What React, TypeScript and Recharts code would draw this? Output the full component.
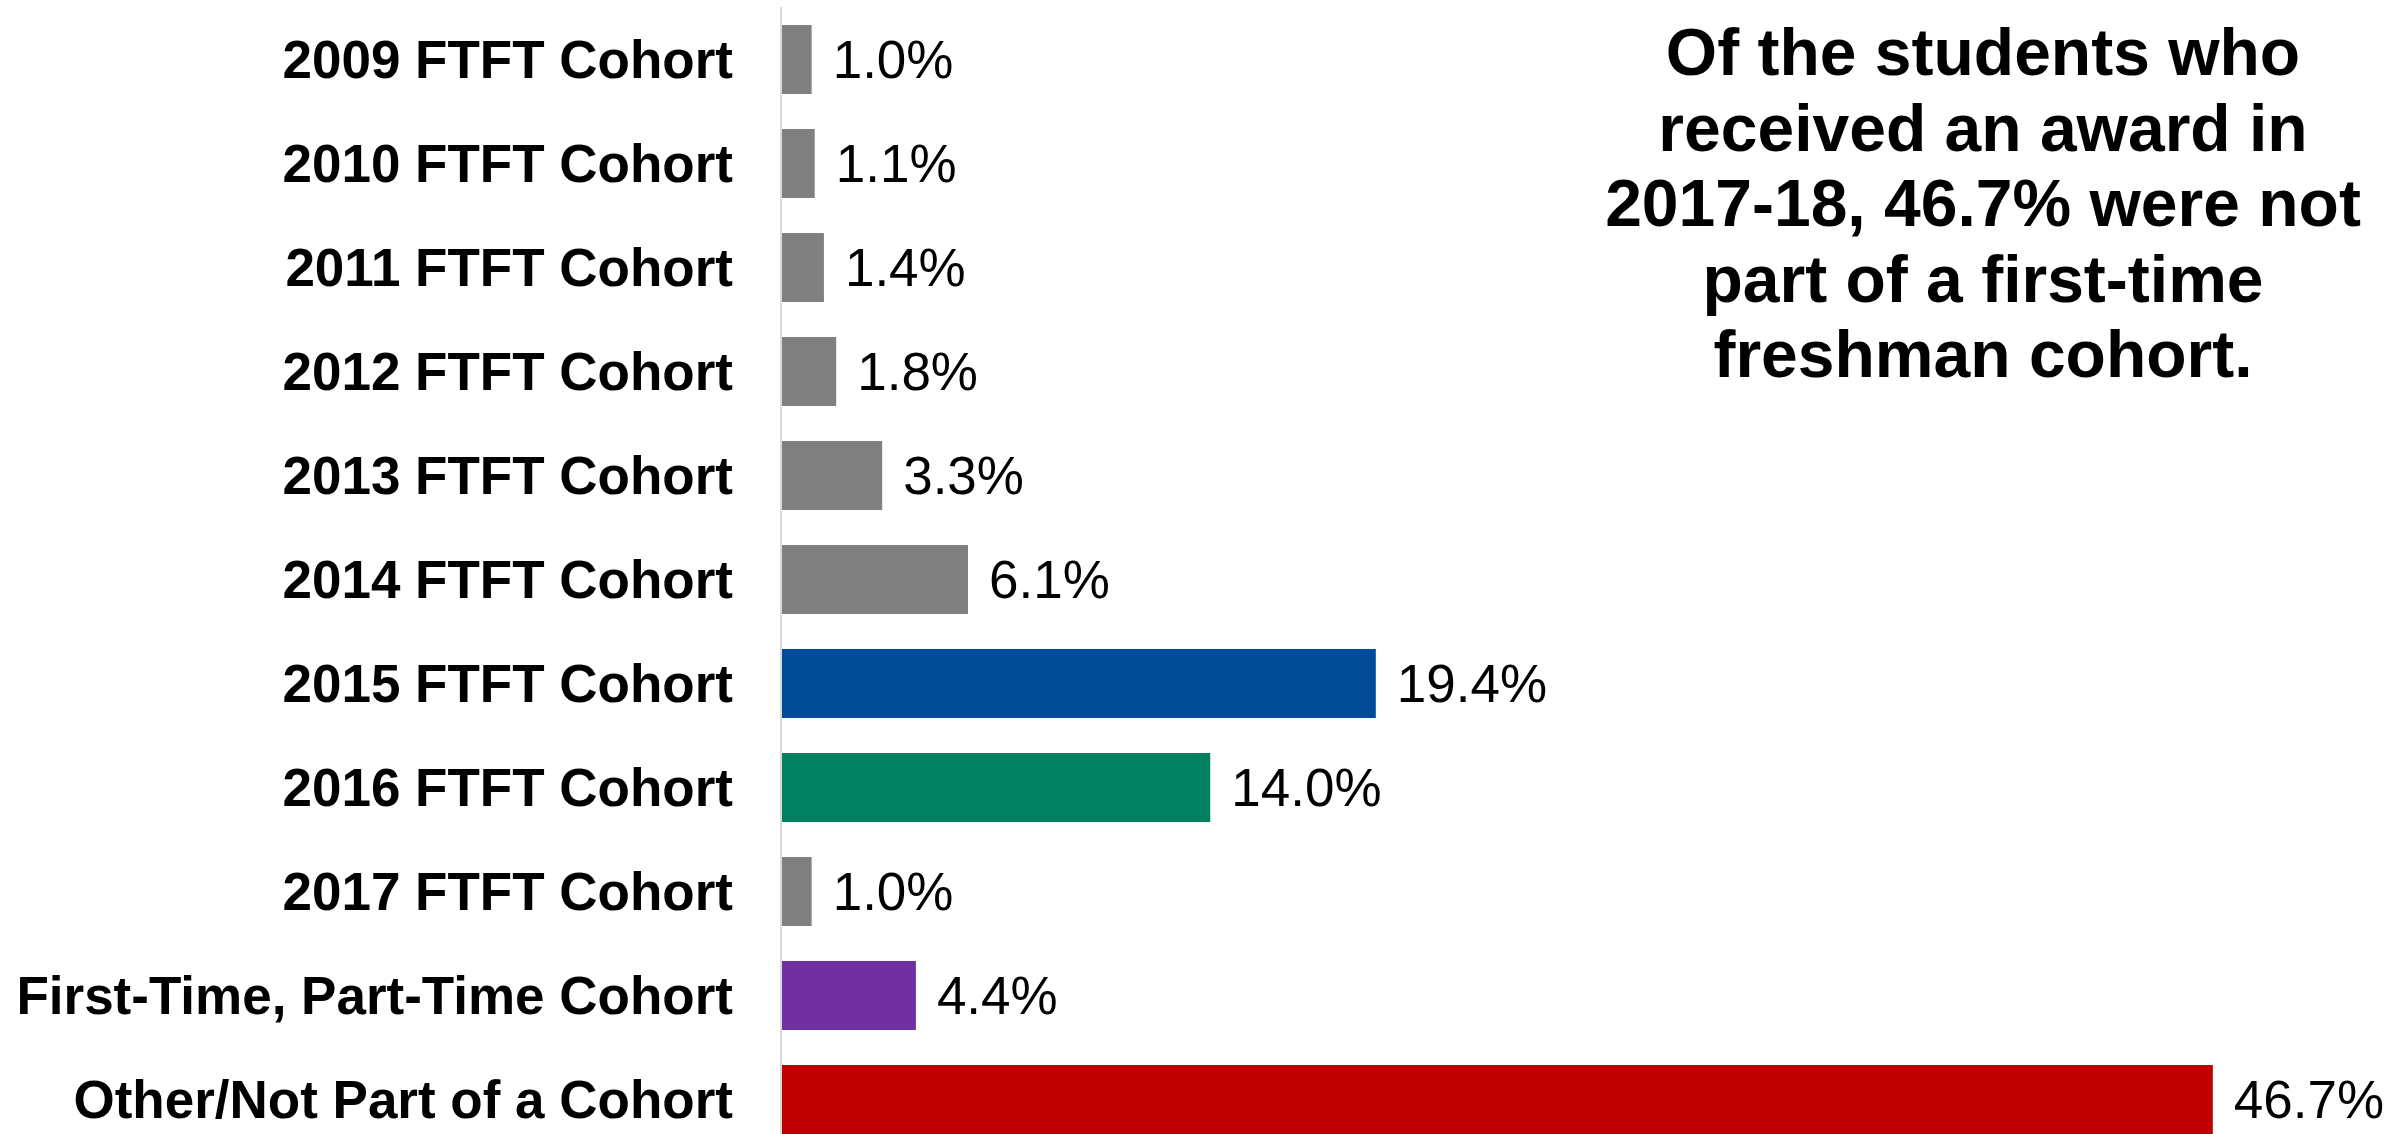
import { BarChart, Bar, XAxis, YAxis, Cell, LabelList } from "recharts";

const categories = [
  "2009 FTFT Cohort",
  "2010 FTFT Cohort",
  "2011 FTFT Cohort",
  "2012 FTFT Cohort",
  "2013 FTFT Cohort",
  "2014 FTFT Cohort",
  "2015 FTFT Cohort",
  "2016 FTFT Cohort",
  "2017 FTFT Cohort",
  "First-Time, Part-Time Cohort",
  "Other/Not Part of a Cohort",
];

const shares = [1.0, 1.1, 1.4, 1.8, 3.3, 6.1, 19.4, 14.0, 1.0, 4.4, 46.7];

const barColors = [
  "#808080",
  "#808080",
  "#808080",
  "#808080",
  "#808080",
  "#808080",
  "#024B96",
  "#00805F",
  "#808080",
  "#7030A0",
  "#C00000",
];

const noteLines = [
  "Of the students who",
  "received an award in",
  "2017-18, 46.7% were not",
  "part of a first-time",
  "freshman cohort.",
];

const data = categories.map((name, i) => ({ name, value: shares[i] }));

const FONT = "'Liberation Sans', Arial, Helvetica, sans-serif";

const App = () => (
  <div
    style={{
      position: "absolute",
      left: 0,
      top: 0,
      width: 2404,
      height: 1134,
      overflow: "hidden",
      background: "#ffffff",
      fontFamily: FONT,
    }}
  >
    <BarChart
      width={2404}
      height={1151}
      data={data}
      layout="vertical"
      margin={{ top: 7, right: 90, bottom: 0, left: 0 }}
      barSize={69}
    >
      <XAxis type="number" domain={[0, 50]} hide />
      <YAxis
        type="category"
        dataKey="name"
        width={781}
        axisLine={{ stroke: "#D9D9D9", strokeWidth: 2 }}
        tickLine={false}
        tickSize={0}
        tickMargin={48}
        interval={0}
        tick={{ fill: "#000000", fontSize: 53, fontWeight: "bold", fontFamily: FONT }}
      />
      <Bar dataKey="value" isAnimationActive={false}>
        {data.map((d, i) => (
          <Cell key={d.name} fill={barColors[i]} />
        ))}
        <LabelList
          dataKey="value"
          position="right"
          offset={21}
          fill="#000000"
          fontSize={53}
          fontFamily={FONT}
          formatter={(v: number) => `${v.toFixed(1)}%`}
        />
      </Bar>
    </BarChart>
    <svg
      width={2404}
      height={1134}
      style={{ position: "absolute", left: 0, top: 0, pointerEvents: "none" }}
    >
      {noteLines.map((line, i) => (
        <text
          key={line}
          x={1983}
          y={75 + i * 75.5}
          textAnchor="middle"
          fontSize={66}
          fontWeight="bold"
          fontFamily={FONT}
          fill="#000000"
        >
          {line}
        </text>
      ))}
    </svg>
  </div>
);

export default App;
